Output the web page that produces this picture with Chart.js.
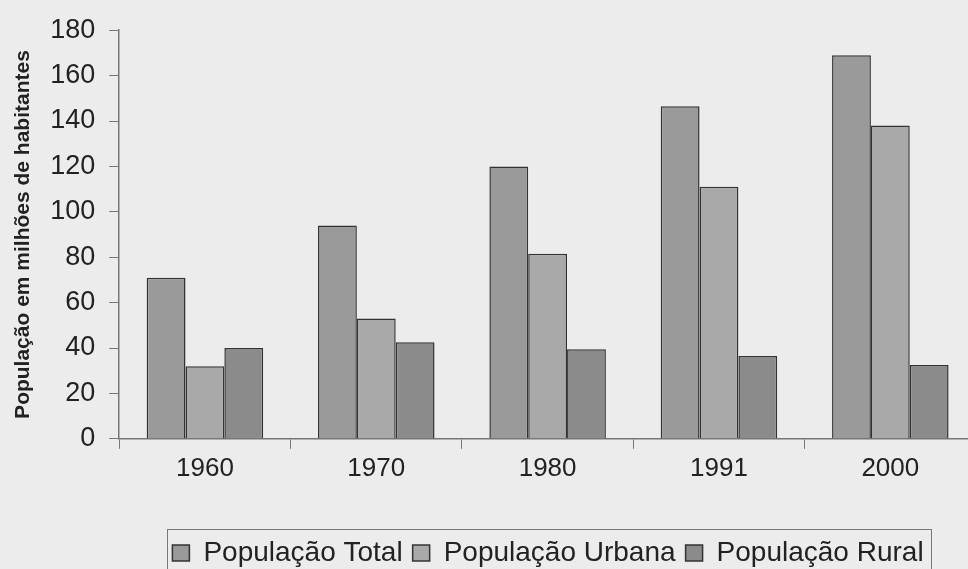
<!DOCTYPE html>
<html>
<head>
<meta charset="utf-8">
<script src="https://cdn.jsdelivr.net/npm/chart.js@4"></script>
<style>
  html, body { margin: 0; padding: 0; background: #ececec; overflow: hidden; }
  #wrap { position: relative; width: 1000px; height: 577px; }
</style>
</head>
<body>
<div id="wrap"><canvas id="chart"></canvas></div>
<script>
// dados (milhões de habitantes)
const years = ['1960', '1970', '1980', '1991', '2000'];
const total = [71, 94, 120, 146.5, 169];
const urbana = [32, 53, 81.5, 111, 138];
const rural = [40, 42.5, 39.5, 36.5, 32.5];

const font = "'Liberation Sans', Arial, sans-serif";

// desloca a legenda e desenha a moldura em volta dela
const legendBox = {
  id: 'legendBox',
  afterLayout(chart) {
    chart.legend.left = 96;
    chart.legend.right = 1000;
  },
  afterDraw(chart) {
    const ctx = chart.ctx;
    const lg = chart.legend;
    ctx.save();
    ctx.strokeStyle = '#777';
    ctx.lineWidth = 1;
    ctx.strokeRect(167.5, lg.top + 0.5, 764, 60);
    ctx.restore();
  }
};

new Chart(document.getElementById('chart'), {
  type: 'bar',
  data: {
    labels: years,
    datasets: [
      { label: 'População Total', data: total, backgroundColor: '#9a9a9a' },
      { label: 'População Urbana', data: urbana, backgroundColor: '#a9a9a9' },
      { label: 'População Rural', data: rural, backgroundColor: '#8b8b8b' }
    ]
  },
  options: {
    responsive: true,
    maintainAspectRatio: false,
    animation: false,
    datasets: {
      bar: {
        borderColor: '#333',
        borderWidth: 1.5,
        categoryPercentage: 0.68,
        barPercentage: 1.0
      }
    },
    layout: { padding: { top: 15, right: 24, left: 11, bottom: 0 } },
    plugins: {
      tooltip: { enabled: false },
      legend: {
        position: 'bottom',
        labels: {
          color: '#222',
          font: { family: font, size: 28 },
          boxWidth: 17,
          boxHeight: 16,
          padding: 10
        }
      }
    },
    scales: {
      x: {
        grid: { drawOnChartArea: false, tickLength: 10, color: '#777', offset: true },
        border: { color: '#777', width: 1.5 },
        ticks: { color: '#222', font: { family: font, size: 26 }, padding: 4 },
        afterFit(scale) { scale.height += 41; }
      },
      y: {
        min: 0,
        max: 180,
        grid: { drawOnChartArea: false, tickLength: 10, color: '#777' },
        border: { color: '#777', width: 1.5 },
        ticks: { stepSize: 20, color: '#222', font: { family: font, size: 27 }, padding: 14 },
        title: {
          display: true,
          text: 'População em milhões de habitantes',
          color: '#222',
          font: { family: font, size: 21, weight: 'bold' },
          padding: { top: 0, bottom: 0 }
        }
      }
    }
  },
  plugins: [legendBox]
});
</script>
</body>
</html>
